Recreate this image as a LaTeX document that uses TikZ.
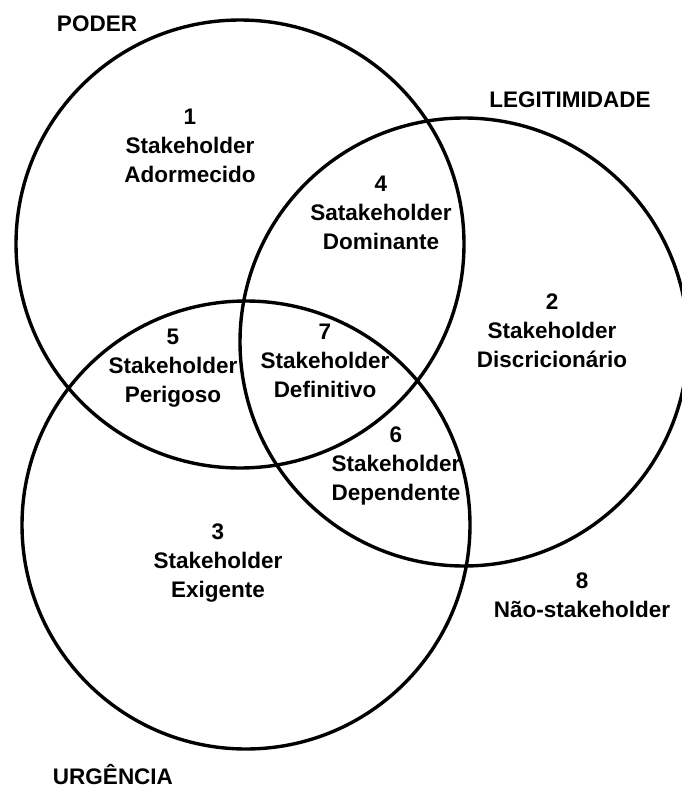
\documentclass[tikz,border=0pt]{standalone}
\usepackage{fontspec}
\setmainfont{Liberation Sans}
\begin{document}
\begin{tikzpicture}[x=1pt,y=-1pt,
  ring/.style={line width=3.4pt, draw=black},
  zone/.style={align=center, font=\bfseries\fontsize{22.5}{29}\selectfont, inner sep=0pt},
  setname/.style={font=\bfseries\fontsize{22.5}{27}\selectfont, inner sep=0pt}]
\useasboundingbox (0,0) rectangle (681,789);

% centres of the three attribute circles
\coordinate (cP) at (240,244);
\coordinate (cL) at (464,342);
\coordinate (cU) at (246,525);
\draw[ring] (cP) circle [radius=224pt];
\draw[ring] (cL) circle [radius=224pt];
\draw[ring] (cU) circle [radius=224pt];

% attribute names
\node[setname] (poder) at (97,24) {PODER};
\node[setname] (legit) at (570,100) {LEGITIMIDADE};
\node[setname] (urg) at (113,775) {URGÊNCIA};

% stakeholder classes
\node[zone] (z1) at (190,146) {1\\Stakeholder\\Adormecido};
\node[zone] (z4) at (381,213) {4\\Satakeholder\\Dominante};
\node[zone] (z2) at (552,331) {2\\Stakeholder\\Discricionário};
\node[zone] (z5) at (173,368) {5\\Stakeholder\\Perigoso};
\node[zone] (z7) at (325,361) {7\\Stakeholder\\Definitivo};
\node[zone] (z6) at (396,466) {6\\Stakeholder\\Dependente};
\node[zone] (z3) at (218,563) {3\\Stakeholder\\Exigente};
\node[zone] (z8) at (582,595) {8\\Não-stakeholder};
\end{tikzpicture}
\end{document}
